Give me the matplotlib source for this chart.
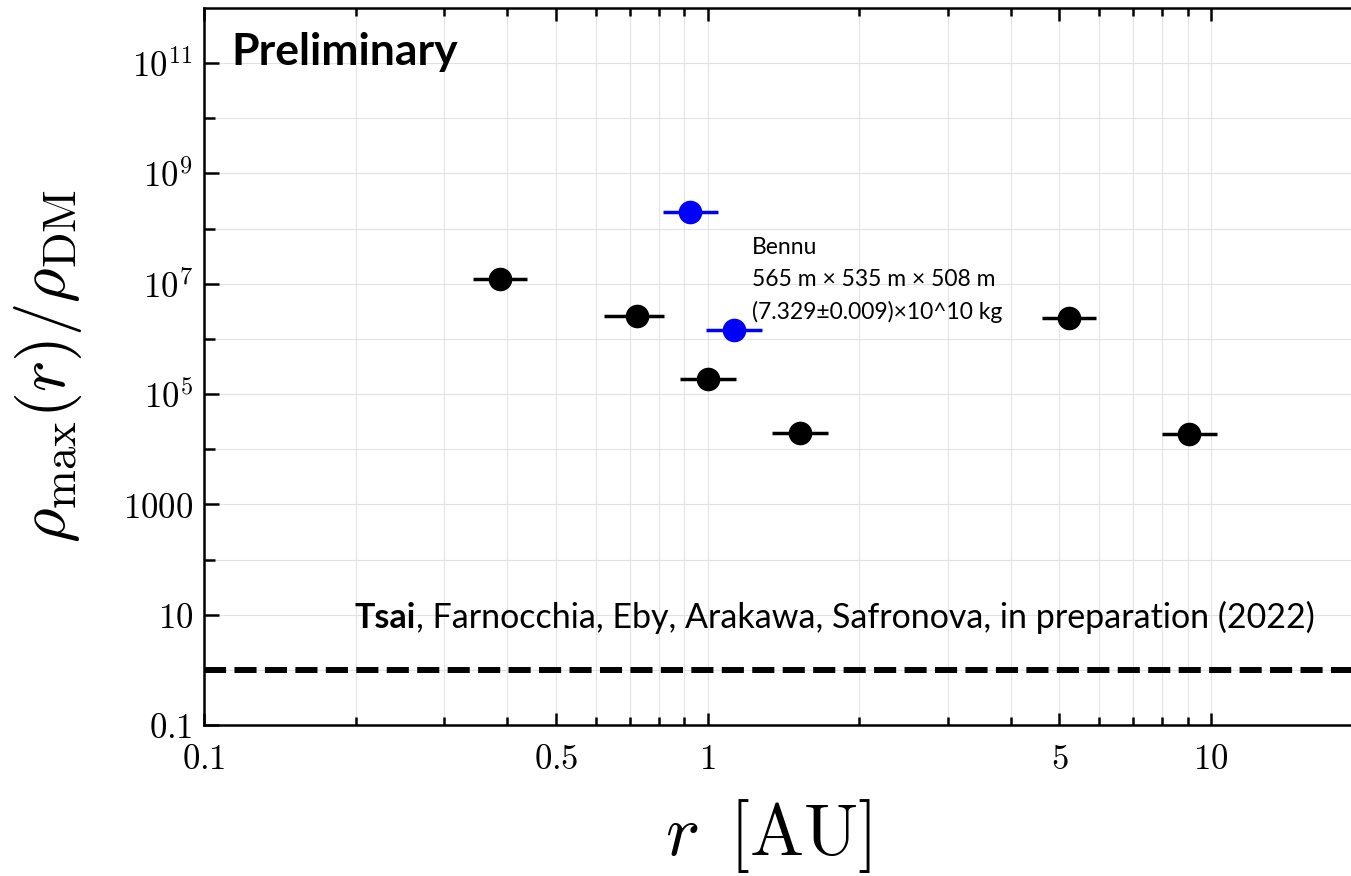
import numpy as np
import matplotlib
matplotlib.use("Agg")
import matplotlib.pyplot as plt
from matplotlib.ticker import FixedLocator, FixedFormatter, NullFormatter

plt.rcParams['mathtext.fontset'] = 'cm'

# planets (black) : distance [AU], range of error bar, rho_max / rho_DM
planet_r = [0.387, 0.723, 1.0, 1.526, 5.22, 9.06]
planet_r_lo = [0.342, 0.623, 0.882, 1.345, 4.61, 8.0]
planet_r_hi = [0.439, 0.821, 1.137, 1.733, 5.91, 10.29]
planet_rho = [1.23e7, 2.57e6, 1.85e5, 1.95e4, 2.39e6, 1.87e4]

# asteroids (blue)
ast_r = [0.923, 1.129]
ast_r_lo = [0.815, 0.993]
ast_r_hi = [1.048, 1.281]
ast_rho = [2.03e8, 1.44e6]

dm_level = 1.0

x_major = [0.1, 0.5, 1, 5, 10]
x_major_lbl = [r'$0.1$', r'$0.5$', r'$1$', r'$5$', r'$10$']
x_minor = [0.2, 0.3, 0.4, 0.6, 0.7, 0.8, 0.9, 2, 3, 4, 6, 7, 8, 9, 20]
y_major = [0.1, 10, 1e3, 1e5, 1e7, 1e9, 1e11]
y_major_lbl = [r'$0.1$', r'$10$', r'$1000$', r'$10^{5}$', r'$10^{7}$', r'$10^{9}$', r'$10^{11}$']
y_minor = [1, 100, 1e4, 1e6, 1e8, 1e10]

bennu_txt = "Bennu\n565 m × 535 m × 508 m\n(7.329±0.009)×10^10 kg"

fig = plt.figure(figsize=(13.51, 8.76), dpi=100)
ax = fig.add_axes([204 / 1351, 151 / 876, 1158.6 / 1351, 717 / 876])

ax.set_xscale('log')
ax.set_yscale('log')
ax.set_xlim(0.1, 20)
ax.set_ylim(0.1, 1e12)

ax.xaxis.set_major_locator(FixedLocator(x_major))
ax.xaxis.set_major_formatter(FixedFormatter(x_major_lbl))
ax.xaxis.set_minor_locator(FixedLocator(x_minor))
ax.xaxis.set_minor_formatter(NullFormatter())
ax.yaxis.set_major_locator(FixedLocator(y_major))
ax.yaxis.set_major_formatter(FixedFormatter(y_major_lbl))
ax.yaxis.set_minor_locator(FixedLocator(y_minor))
ax.yaxis.set_minor_formatter(NullFormatter())

ax.tick_params(axis='both', which='both', direction='in', labelsize=25, width=1.8)
ax.tick_params(axis='x', which='major', length=9, pad=12, top=True)
ax.tick_params(axis='x', which='minor', length=6, top=True)
ax.tick_params(axis='y', which='major', length=11, pad=8)
ax.tick_params(axis='y', which='minor', length=8)

ax.grid(True, which='both', color='#e2e2e2', linewidth=0.8, zorder=0)
ax.set_axisbelow(True)
for s in ['left', 'bottom', 'top']:
    ax.spines[s].set_linewidth(1.8)
ax.spines['right'].set_visible(False)

ax.axhline(dm_level, color='black', lw=4.3, dashes=(3.7, 1.4), zorder=2)

pr = np.array(planet_r)
ax.errorbar(planet_r, planet_rho,
            xerr=[pr - np.array(planet_r_lo), np.array(planet_r_hi) - pr],
            fmt='o', color='black', ms=16, elinewidth=2.5, capsize=0, zorder=3)
ar = np.array(ast_r)
ax.errorbar(ast_r, ast_rho,
            xerr=[ar - np.array(ast_r_lo), np.array(ast_r_hi) - ar],
            fmt='o', color='#0000ff', ms=16, elinewidth=2.5, capsize=0, zorder=3)

ax.text(0.024, 0.92, 'Preliminary', transform=ax.transAxes, fontsize=32,
        fontweight='bold', family='Lato', va='baseline', ha='left')

ax.text(0.473, 0.68, bennu_txt, transform=ax.transAxes, fontsize=16.5,
        family='Lato', va='top', ha='left', linespacing=1.6)

t1 = ax.text(0.13, 0.127, 'Tsai', transform=ax.transAxes, fontsize=24.5,
             fontweight='bold', family='Lato', va='bottom', ha='left')
ax.annotate(', Farnocchia, Eby, Arakawa, Safronova, in preparation (2022)',
            xy=(1, 0), xycoords=t1, fontsize=24.5, family='Lato',
            va='bottom', ha='left')

ax.set_xlabel(r'$r\ \,[\mathrm{AU}]$', fontsize=52)
ax.xaxis.set_label_coords(0.487, -0.1)
ax.set_ylabel(r'$\rho_{\max}(r)/\rho_{\mathrm{DM}}$', fontsize=48)
ax.yaxis.set_label_coords(-0.104, 0.5)

fig.savefig('out.png', dpi=100)
